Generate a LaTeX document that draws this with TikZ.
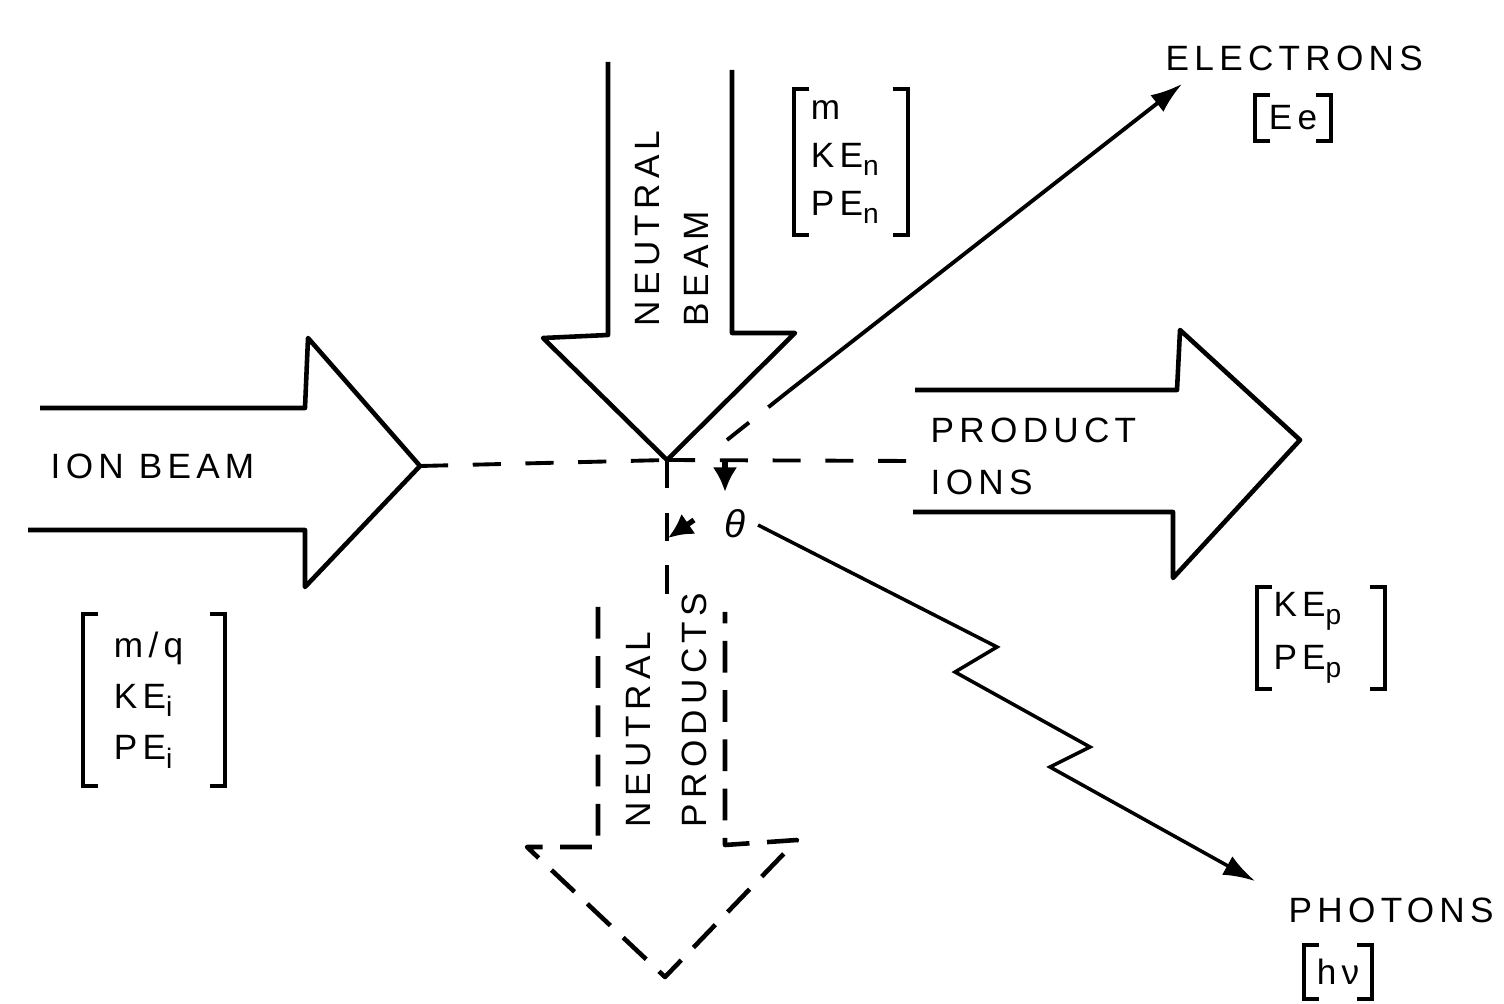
\documentclass[tikz,border=0pt]{standalone}
\usepackage{fontspec}
\setmainfont[LetterSpace=15]{Liberation Sans}
\usetikzlibrary{arrows.meta}
\newcommand\lowsub[1]{\raisebox{-0.45ex}{\footnotesize #1}}
\newcommand\brk[1]{%
  \draw[brkline] ([xshift=0.15cm]#1.north west) -- (#1.north west) -- (#1.south west) -- ([xshift=0.15cm]#1.south west);
  \draw[brkline] ([xshift=-0.15cm]#1.north east) -- (#1.north east) -- (#1.south east) -- ([xshift=-0.15cm]#1.south east);}
\begin{document}
\begin{tikzpicture}[x=0.01cm,y=-0.01cm,
  beam/.style={line width=1.3pt,line join=round},
  dbeam/.style={line width=1.3pt,dash pattern=on 9pt off 5pt,line join=round},
  cdash/.style={line width=1.1pt,dash pattern=on 8pt off 7pt},
  brkline/.style={line width=1.2pt},
  lbl/.style={font=\fontsize{10}{13}\selectfont,inner sep=0pt},
  vec/.style={line width=1.1pt,-{Latex[length=9pt,width=6pt]}},
  anglemark/.style={line width=1.5pt,-{Latex[length=7pt,width=7pt]}},
  brknode/.style={font=\fontsize{10}{13.6}\selectfont,align=left,inner ysep=0pt}]
\useasboundingbox (0,0) rectangle (1504,1004);
% key points
\coordinate (ctr) at (667,460);
\coordinate (ionTip) at (420,466);
\coordinate (prodEnd) at (912,461);
\coordinate (npTop) at (667,597);
% ion beam arrow
\draw[beam] (40,408) -- (305,408) -- (308,338) -- (ionTip) -- (305,587) -- (305,530) -- (28,530);
\node[lbl,anchor=west] (ionlbl) at (50,466) {ION BEAM};
% neutral beam arrow
\draw[beam] (608,62) -- (608,335) -- (543,338) -- (ctr) -- (795,333) -- (732,333) -- (732,70);
\node[lbl,rotate=90,anchor=west] (nb1) at (648,327) {NEUTRAL};
\node[lbl,rotate=90,anchor=west] (nb2) at (696,327) {BEAM};
% product ions arrow
\draw[beam] (915,390) -- (1177,390) -- (1180,330) -- (1300,440) -- (1173,578) -- (1173,512) -- (913,512);
\node[lbl,anchor=west] (pi1) at (930,430) {PRODUCT};
\node[lbl,anchor=west] (pi2) at (930,482) {IONS};
% neutral products dashed arrow
\draw[dbeam] (598,607) -- (598,847) -- (527,847) -- (665,977) -- (797,840) -- (725,845) -- (725,612);
\node[lbl,rotate=90,anchor=west] (np1) at (639,828) {NEUTRAL};
\node[lbl,rotate=90,anchor=west] (np2) at (694,828) {PRODUCTS};
% dashed axes
\draw[cdash] (ionTip) -- (ctr);
\draw[cdash] (ctr) -- (prodEnd);
\draw[cdash] (ctr) -- (npTop);
% angle marks
\coordinate (a1s) at (725,462);
\coordinate (a1e) at (725,492);
\coordinate (a2s) at (694,520);
\coordinate (a2e) at (668,538);
\draw[anglemark] (a1s) -- (a1e);
\draw[anglemark] (a2s) -- (a2e);
\node[lbl,font=\fontsize{11}{13}\selectfont\itshape] (theta) at (735,524) {θ};
% electrons
\coordinate (eStart) at (727,440);
\coordinate (eMid) at (790,390);
\node[lbl,anchor=west] (elec) at (1165,58) {ELECTRONS};
\node[brknode,inner xsep=0.13cm,minimum height=0.45cm] (ee) at (1293,118) {Ee};
\brk{ee}
\coordinate (eEnd) at (1182,84);
\draw[cdash] (eStart) -- (eMid);
\draw[vec] (eMid) -- (eEnd);
% photons
\coordinate (phS) at (758,525);
\coordinate (phE) at (1255,881);
\draw[line width=1pt,line join=miter,-{Latex[length=9pt,width=6pt]}] (phS) -- (997,647) -- (955,672) -- (1090,747) -- (1050,767) -- (phE);
\node[lbl,anchor=west] (phot) at (1288,910) {PHOTONS};
\node[brknode,inner xsep=0.12cm,minimum height=0.52cm] (hnu) at (1338,972) {hν};
\brk{hnu}
% parameter brackets
\node[brknode,text width=0.8cm,inner xsep=0.3cm,minimum height=1.7cm] (ionpar) at (154,700)
  {m/q\\[1pt]KE\lowsub{i}\\[1pt]PE\lowsub{i}};
\brk{ionpar}
\node[brknode,text width=0.8cm,inner xsep=0.16cm,minimum height=1.45cm] (nbpar) at (851,162)
  {m\\KE\lowsub{n}\\PE\lowsub{n}};
\brk{nbpar}
\node[brknode,text width=0.95cm,inner xsep=0.16cm,minimum height=1.0cm,font=\fontsize{10}{15}\selectfont] (ppar) at (1321,638)
  {KE\lowsub{p}\\PE\lowsub{p}};
\brk{ppar}
\end{tikzpicture}
\end{document}
